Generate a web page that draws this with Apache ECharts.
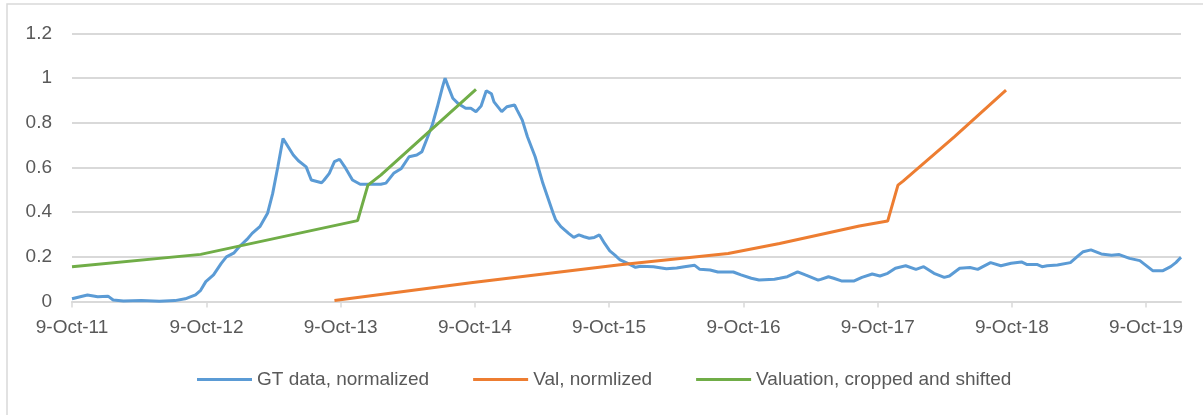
<!DOCTYPE html>
<html>
<head>
<meta charset="UTF-8">
<title>GT vs valuation</title>
<script src="https://cdn.jsdelivr.net/npm/echarts@6/dist/echarts.min.js"></script>
<style>
  html, body { margin: 0; padding: 0; background: #fff; }
  #main { width: 1203px; height: 415px; }
</style>
</head>
<body>
<div id="main"></div>
<script>
// weekly series, week 0 = 9-Oct-11; x axis counts days from that date
var startDay = Date.UTC(2011, 9, 9);
var lastWeek = 431;

var seriesNames = ['GT data, normalized', 'Val, normlized', 'Valuation, cropped and shifted'];
var tickYears = [2011, 2012, 2013, 2014, 2015, 2016, 2017, 2018, 2019];

var gtWeeks = [0, 6, 10, 14, 16, 20, 27, 34, 40, 44, 48, 50, 52, 55, 58, 60, 63, 65, 68, 70,
    73, 76, 78, 80, 82, 84, 86, 88, 91, 93, 97, 98, 100, 102, 104, 106, 109, 112, 116, 120,
    122, 125, 128, 131, 134, 136, 138, 140, 142, 144, 145, 146, 148, 150, 153, 155, 157, 159, 161, 163,
    164, 167, 169, 172, 173, 175, 177, 180, 183, 185, 187, 188, 190, 193, 195, 197, 199, 201, 203, 205,
    207, 209, 211, 213, 216, 219, 221, 226, 231, 235, 238, 242, 244, 248, 251, 257, 260, 264, 267, 273,
    275, 278, 282, 285, 290, 291, 294, 296, 299, 304, 307, 311, 314, 317, 320, 324, 328, 331, 335, 339,
    341, 345, 349, 352, 354, 357, 361, 365, 369, 371, 375, 377, 379, 383, 388, 391, 393, 396, 400, 404,
    407, 411, 415, 418, 420, 424, 427, 429, 431];
var gtValues = [0.012, 0.029, 0.021, 0.024, 0.007, 0.002, 0.004, 0.001, 0.004, 0.012, 0.03, 0.05, 0.089, 0.119, 0.171, 0.2, 0.218, 0.245, 0.278, 0.305,
    0.335, 0.395, 0.484, 0.603, 0.73, 0.693, 0.656, 0.63, 0.603, 0.544, 0.532, 0.544, 0.574, 0.626, 0.637, 0.603, 0.544, 0.525, 0.525, 0.525,
    0.53, 0.574, 0.596, 0.648, 0.656, 0.671, 0.73, 0.79, 0.872, 0.961, 1.0, 0.969, 0.91, 0.887, 0.865, 0.865, 0.85, 0.875, 0.944, 0.93,
    0.894, 0.85, 0.872, 0.88, 0.857, 0.812, 0.738, 0.648, 0.529, 0.462, 0.395, 0.365, 0.335, 0.305, 0.287, 0.298, 0.29, 0.283, 0.287, 0.298,
    0.26, 0.227, 0.208, 0.186, 0.171, 0.153, 0.158, 0.156, 0.147, 0.15, 0.156, 0.162, 0.144, 0.141, 0.132, 0.132, 0.119, 0.104, 0.096, 0.1,
    0.104, 0.111, 0.133, 0.119, 0.096, 0.099, 0.111, 0.104, 0.092, 0.092, 0.108, 0.123, 0.114, 0.126, 0.149, 0.16, 0.144, 0.156, 0.126, 0.108,
    0.114, 0.149, 0.152, 0.144, 0.156, 0.174, 0.16, 0.171, 0.177, 0.166, 0.166, 0.156, 0.16, 0.163, 0.174, 0.204, 0.223, 0.231, 0.213, 0.207,
    0.21, 0.193, 0.183, 0.156, 0.138, 0.138, 0.156, 0.174, 0.198];

var valWeeks = [102, 155, 213, 255, 275, 306, 317, 321, 323, 343, 363];
var valValues = [0.004, 0.084, 0.165, 0.215, 0.26, 0.338, 0.36, 0.521, 0.539, 0.738, 0.946];

var shiftedWeeks = [0, 50, 111, 115, 120, 157];
var shiftedValues = [0.156, 0.211, 0.362, 0.521, 0.566, 0.95];

var colors = ['#5B9BD5', '#ED7D31', '#70AD47'];
var font = 'Liberation Sans, Arial, sans-serif';
var DAY = 86400000;

function toPoints(weeks, values) {
    return weeks.map(function (w, i) { return [w * 7, values[i]]; });
}

// 9 Oct of each year, as days from the start
var tickDays = tickYears.map(function (y) { return Math.round((Date.UTC(y, 9, 9) - startDay) / DAY); });

function dateLabel(days) {
    var d = new Date(startDay + days * DAY);
    return d.getUTCDate() + '-Oct-' + String(d.getUTCFullYear()).slice(2);
}

var chart = echarts.init(document.getElementById('main'), null, { renderer: 'canvas' });

var lineSeries = [
    toPoints(gtWeeks, gtValues),
    toPoints(valWeeks, valValues),
    toPoints(shiftedWeeks, shiftedValues)
].map(function (pts, i) {
    return {
        name: seriesNames[i],
        type: 'line',
        data: pts,
        showSymbol: false,
        lineStyle: { color: colors[i], width: 3 },
        itemStyle: { color: colors[i] }
    };
});

chart.setOption({
    animation: false,
    backgroundColor: '#fff',
    textStyle: { fontFamily: font },
    graphic: [{
        type: 'rect',
        shape: { x: 7, y: 4, width: 1400, height: 600 },
        style: { fill: 'none', stroke: '#d9d9d9', lineWidth: 1.5 },
        silent: true
    }],
    grid: {
        left: 72,
        right: 22,
        top: 33.5,
        bottom: 113.5,
        outerBoundsMode: 'none'
    },
    legend: {
        left: 197,
        top: 370,
        padding: 0,
        icon: 'rect',
        itemWidth: 55,
        itemHeight: 3,
        itemGap: 44,
        textStyle: { color: '#595959', fontSize: 19, fontFamily: font },
        data: seriesNames
    },
    xAxis: {
        type: 'value',
        min: 0,
        max: lastWeek * 7,
        axisLine: { lineStyle: { color: '#d9d9d9', width: 2 } },
        axisTick: {
            show: true,
            length: 6,
            customValues: tickDays,
            lineStyle: { color: '#d9d9d9', width: 1.5 }
        },
        axisLabel: {
            customValues: tickDays,
            formatter: dateLabel,
            color: '#595959',
            fontSize: 19,
            fontFamily: font,
            margin: 17
        },
        splitLine: { show: false }
    },
    yAxis: {
        type: 'value',
        min: 0,
        max: 1.2,
        interval: 0.2,
        axisLine: { show: false },
        axisTick: { show: false },
        axisLabel: { color: '#595959', fontSize: 19, fontFamily: font, margin: 20 },
        splitLine: { lineStyle: { color: '#d9d9d9', width: 2 } }
    },
    series: lineSeries
});
</script>
</body>
</html>
